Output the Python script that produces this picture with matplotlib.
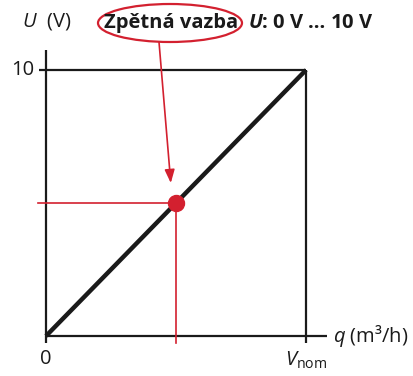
import matplotlib
matplotlib.use("Agg")
import matplotlib.pyplot as plt
from matplotlib.patches import Ellipse

plt.rcParams['font.family'] = ['Open Sans', 'DejaVu Sans']
plt.rcParams['mathtext.fontset'] = 'custom'
plt.rcParams['mathtext.rm'] = 'Open Sans'
plt.rcParams['mathtext.it'] = 'Open Sans:italic'
plt.rcParams['mathtext.bf'] = 'Open Sans:bold'
plt.rcParams['mathtext.bfit'] = 'Open Sans:bold:italic'

# data
q_line = [0.0, 1.0]          # q relative to V_nom
u_line = [0.0, 10.0]         # U in volts
q_point = 0.5
u_point = 5.0
x_ticklabels = ["0", "$V_{\\mathrm{nom}}$"]
y_ticklabels = ["10"]

red = "#d3202f"
black = "#1a1a1a"
fs = 14.5

W, H = 414, 376
fig = plt.figure(figsize=(W / 100, H / 100), dpi=100)
ax = fig.add_axes([46 / W, 40 / H, 260 / W, 266 / H])
ax.set_xlim(0, 1)
ax.set_ylim(0, 10)
ax.axis("off")

# axes lines
ax.plot([0, 0], [-0.27, 10.75], color=black, lw=1.6, clip_on=False, solid_capstyle="butt")
ax.plot([0, 1.08], [0, 0], color=black, lw=1.6, clip_on=False, solid_capstyle="butt")
ax.plot([-0.025, 1], [10, 10], color=black, lw=1.6, clip_on=False, solid_capstyle="butt")
ax.plot([1, 1], [-0.27, 10], color=black, lw=1.6, clip_on=False, solid_capstyle="butt")

# red guide lines
ax.plot([-0.032, q_point], [u_point, u_point], color=red, lw=1.2, clip_on=False)
ax.plot([q_point, q_point], [-0.27, u_point], color=red, lw=1.2, clip_on=False)

# characteristic
ax.plot(q_line, u_line, color=black, lw=3.2, clip_on=False, solid_capstyle="butt")
ax.plot([q_point], [u_point], "o", color=red, ms=11.5, clip_on=False, zorder=5)

# tick labels
ax.text(0, -0.5, x_ticklabels[0], ha="center", va="top", fontsize=fs, color=black)
ax.text(1, -0.5, x_ticklabels[1], ha="center", va="top", fontsize=fs, color=black)
ax.text(-0.045, 10, y_ticklabels[0], ha="right", va="center", fontsize=fs, color=black)

# axis titles
fig.text(22 / W, 1 - 22 / H, "$\\mathit{U}$  (V)", fontsize=fs, va="center", ha="left", color=black)
fig.text(333 / W, 1 - 336 / H, "$\\mathit{q}$ (m³/h)", fontsize=fs, va="center", ha="left", color=black)

# feedback annotation
fig.text(171 / W, 1 - 23 / H, "Zpětná vazba", fontsize=fs, fontweight="bold",
         ha="center", va="center", color=black)
fig.text(248 / W, 1 - 23 / H, "$\\mathbfit{U}$: 0 V … 10 V", fontsize=fs, fontweight="bold",
         ha="left", va="center", color=black)
ell = Ellipse((170 / W, 1 - 23 / H), 144 / W, 38 / H, transform=fig.transFigure,
              fill=False, edgecolor=red, lw=1.6)
fig.add_artist(ell)
ax.annotate("", xy=(q_point - 0.02, u_point + 0.75), xycoords="data",
            xytext=(159 / W, 1 - 42 / H), textcoords="figure fraction",
            arrowprops=dict(arrowstyle="-|>,head_length=0.8,head_width=0.3",
                            color=red, lw=1.2, shrinkA=0, shrinkB=0))

fig.savefig("out.png", dpi=100)
